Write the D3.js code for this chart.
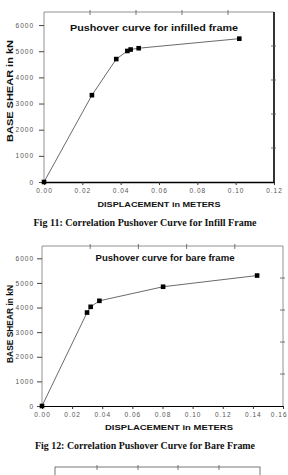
<!doctype html>
<html>
<head>
<meta charset="utf-8">
<script src="https://d3js.org/d3.v7.min.js"></script>
<style>
  body { margin: 0; background: #fff; }
  svg { display: block; }
  .tick-label { font-family: 'Liberation Sans', Arial, sans-serif; font-size: 6.5px; fill: #555; letter-spacing: 1px; }
  .ttl { font-family: 'Liberation Sans', Arial, sans-serif; font-weight: bold; fill: #111; }
  .cap { font-family: 'Liberation Serif', 'Times New Roman', serif; font-weight: bold; font-size: 9.5px; fill: #111; }
</style>
</head>
<body>
<svg id="fig" width="288" height="475"></svg>
<script>
// chart 1 - infilled frame
var infillDisp  = [0, 0.025, 0.0377, 0.0435, 0.0452, 0.0494, 0.1019];
var infillShear = [0, 3320, 4700, 5010, 5065, 5115, 5480];
var infillXTicks = [0, 0.02, 0.04, 0.06, 0.08, 0.10, 0.12];
var infillYTicks = [0, 1000, 2000, 3000, 4000, 5000, 6000];

// chart 2 - bare frame
var bareDisp  = [0, 0.0299, 0.0323, 0.0381, 0.0804, 0.1428];
var bareShear = [0, 3796, 4029, 4273, 4845, 5300];
var bareXTicks = [0, 0.02, 0.04, 0.06, 0.08, 0.10, 0.12, 0.14, 0.16];
var bareYTicks = [0, 1000, 2000, 3000, 4000, 5000, 6000];

var svg = d3.select("#fig");

function drawChart(c) {
  var x = d3.scaleLinear().domain(c.xDomain).range([c.left, c.right]);
  var y = d3.scaleLinear().domain(c.yDomain).range([c.bottom, c.top]);
  var g = svg.append("g");

  // frame: top + left thin gray
  g.append("line").attr("x1", c.left).attr("x2", c.right).attr("y1", c.top).attr("y2", c.top)
    .attr("stroke", "#777").attr("stroke-width", 0.8);
  g.append("line").attr("x1", c.left).attr("x2", c.left).attr("y1", c.top).attr("y2", c.bottom)
    .attr("stroke", "#777").attr("stroke-width", 0.8);
  g.append("line").attr("x1", c.right).attr("x2", c.right).attr("y1", c.top).attr("y2", c.bottom)
    .attr("stroke", c.rightColor).attr("stroke-width", c.rightWidth);

  // secondary ticks on top and right (5 divisions)
  for (var i = 1; i < 5; i++) {
    var tx = c.left + (c.right - c.left) * i / 5;
    var ty = c.bottom - (c.bottom - c.top) * i / 5;
    g.append("line").attr("x1", tx).attr("x2", tx).attr("y1", c.top - 2).attr("y2", c.top + 3)
      .attr("stroke", "#555").attr("stroke-width", 0.8);
    g.append("line").attr("x1", c.right - 3).attr("x2", c.right + 2).attr("y1", ty).attr("y2", ty)
      .attr("stroke", "#555").attr("stroke-width", 0.8);
  }

  // x axis
  var xa = g.append("g").attr("transform", "translate(0," + c.bottom + ")")
    .call(d3.axisBottom(x).tickValues(c.xTicks).tickFormat(d3.format(".2f")).tickSize(3).tickSizeOuter(0));
  xa.select(".domain").attr("stroke", "#000").attr("stroke-width", c.bottomWidth);
  xa.selectAll(".tick line").attr("stroke", "#333");
  xa.selectAll(".tick text").attr("class", "tick-label").attr("y", 6).attr("font-size", null).attr("font-family", null);
  if (c.lastLabelEnd) {
    // keep the last label inside the page
    xa.selectAll(".tick text").filter(function(d) { return d === c.xTicks[c.xTicks.length - 1]; })
      .attr("text-anchor", "end").attr("x", 288 - x(d3.max(c.xTicks)) - 1);
  }

  // y axis
  var ya = g.append("g").attr("transform", "translate(" + c.left + ",0)")
    .call(d3.axisLeft(y).tickValues(c.yTicks).tickFormat(d3.format("d")).tickSize(5).tickSizeOuter(0));
  ya.select(".domain").remove();
  ya.selectAll(".tick line").attr("stroke", "#444");
  ya.selectAll(".tick text").attr("class", "tick-label").attr("x", -c.yLabelGap).attr("font-size", null).attr("font-family", null);

  // data line + markers
  var pts = c.xs.map(function(d, i) { return [d, c.ys[i]]; });
  g.append("path").datum(pts)
    .attr("d", d3.line().x(function(d) { return x(d[0]); }).y(function(d) { return y(d[1]); }))
    .attr("fill", "none").attr("stroke", "#444").attr("stroke-width", 0.8);
  g.selectAll("rect.pt").data(pts).enter().append("rect")
    .attr("x", function(d) { return x(d[0]) - 2.3; })
    .attr("y", function(d) { return y(d[1]) - 2.3; })
    .attr("width", 4.6).attr("height", 4.6).attr("fill", "#000");

  // texts
  g.append("text").attr("class", "ttl").attr("x", c.titleX).attr("y", c.titleY)
    .attr("text-anchor", "middle").attr("font-size", c.titleSize)
    .attr("textLength", c.titleLen).attr("lengthAdjust", "spacingAndGlyphs").text(c.title);
  g.append("text").attr("class", "ttl").attr("x", c.xLabelX).attr("y", c.xLabelY)
    .attr("text-anchor", "middle").attr("font-size", 8)
    .attr("textLength", c.xLabelLen).attr("lengthAdjust", "spacingAndGlyphs").text("DISPLACEMENT in METERS");
  g.append("text").attr("class", "ttl")
    .attr("transform", "translate(" + c.yLabelX + "," + c.yLabelY + ") rotate(-90)")
    .attr("text-anchor", "middle").attr("font-size", c.yLabelSize)
    .attr("textLength", c.yLabelLen).attr("lengthAdjust", "spacingAndGlyphs").text("BASE SHEAR in kN");
  g.append("text").attr("class", "cap").attr("x", c.capX).attr("y", c.capY)
    .attr("text-anchor", "middle")
    .attr("textLength", c.capLen).attr("lengthAdjust", "spacingAndGlyphs").text(c.caption);
}

drawChart({
  xs: infillDisp, ys: infillShear, xTicks: infillXTicks, yTicks: infillYTicks,
  xDomain: [0, 0.12], yDomain: [0, 6500],
  left: 44, right: 274, top: 12, bottom: 182,
  rightColor: "#000", rightWidth: 1.6, bottomWidth: 1.6, yLabelGap: 10,
  title: "Pushover curve for infilled frame", titleX: 154, titleY: 31, titleSize: 9.5, titleLen: 168,
  xLabelX: 159, xLabelY: 207, xLabelLen: 123,
  yLabelX: 13, yLabelY: 91, yLabelSize: 9, yLabelLen: 102,
  caption: "Fig 11: Correlation Pushover Curve for Infill Frame", capX: 145, capY: 226, capLen: 223
});

drawChart({
  xs: bareDisp, ys: bareShear, xTicks: bareXTicks, yTicks: bareYTicks,
  xDomain: [0, 0.16], yDomain: [0, 6500],
  left: 42, right: 283, top: 246, bottom: 406,
  rightColor: "#777", rightWidth: 0.8, bottomWidth: 1, yLabelGap: 8, lastLabelEnd: true,
  title: "Pushover curve for bare frame", titleX: 165, titleY: 261, titleSize: 8.5, titleLen: 139,
  xLabelX: 169, xLabelY: 430, xLabelLen: 128,
  yLabelX: 13, yLabelY: 324, yLabelSize: 8.5, yLabelLen: 78,
  caption: "Fig 12: Correlation Pushover Curve for Bare Frame", capX: 145, capY: 449, capLen: 220
});

// top edge of the next figure, cut off by the page
var stub = svg.append("g");
stub.append("rect").attr("x", 55).attr("y", 467).attr("width", 205).attr("height", 20)
  .attr("fill", "none").attr("stroke", "#555").attr("stroke-width", 0.8);
[97, 138, 178, 219].forEach(function(t) {
  stub.append("line").attr("x1", t).attr("x2", t).attr("y1", 465).attr("y2", 470)
    .attr("stroke", "#555").attr("stroke-width", 0.8);
});
</script>
</body>
</html>
